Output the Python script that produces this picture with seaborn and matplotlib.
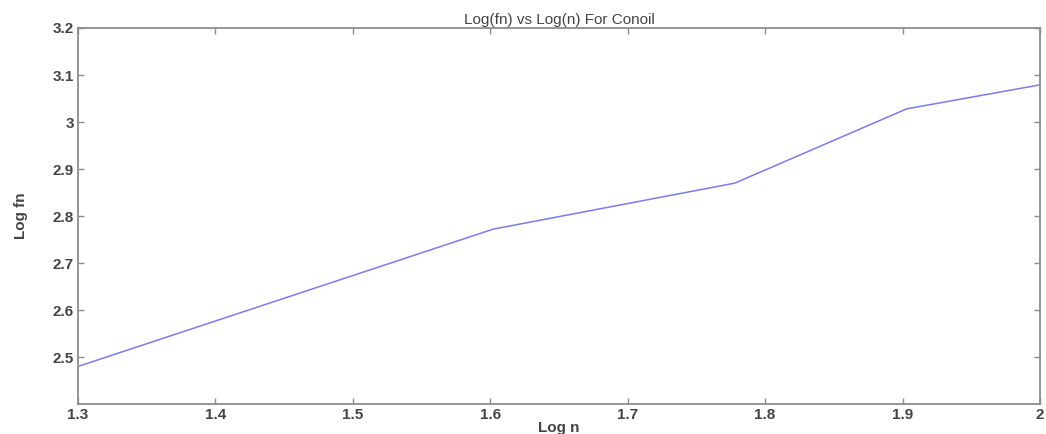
import pandas as pd
import matplotlib.pyplot as plt
import seaborn as sns

log_n = [1.301, 1.602, 1.778, 1.903, 2.0]
log_fn = [2.481, 2.772, 2.870, 3.028, 3.079]
x_ticks = [1.3, 1.4, 1.5, 1.6, 1.7, 1.8, 1.9, 2.0]
x_labels = ["1.3", "1.4", "1.5", "1.6", "1.7", "1.8", "1.9", "2"]
y_ticks = [2.5, 2.6, 2.7, 2.8, 2.9, 3.0, 3.1, 3.2]
y_labels = ["2.5", "2.6", "2.7", "2.8", "2.9", "3", "3.1", "3.2"]

df = pd.DataFrame({"log_n": log_n, "log_fn": log_fn})

sns.set_style("white")
plt.rcParams["font.family"] = ["Liberation Sans", "DejaVu Sans"]

fig = plt.figure(figsize=(10.46, 4.34), dpi=100)
ax = fig.add_axes([0.0746, 0.069, 0.9196, 0.8665])

sns.lineplot(data=df, x="log_n", y="log_fn", ax=ax, color="#7b7bf0", linewidth=1.1)

ax.set_xlim(1.3, 2.0)
ax.set_ylim(2.4, 3.2)
ax.set_xticks(x_ticks)
ax.set_xticklabels(x_labels)
ax.set_yticks(y_ticks)
ax.set_yticklabels(y_labels)

for side in ax.spines.values():
    side.set_color("#8c8c8c")
    side.set_linewidth(1.3)
ax.tick_params(direction="in", length=4, width=1, color="#8c8c8c",
               labelsize=11, labelcolor="#444444", top=True, right=True,
               bottom=True, left=True, pad=3)
for lab in ax.get_xticklabels() + ax.get_yticklabels():
    lab.set_fontweight("bold")

ax.set_title("Log(fn) vs Log(n) For Conoil", fontsize=11, color="#444444", pad=3)
ax.set_xlabel("Log n", fontsize=11, color="#444444", fontweight="bold", labelpad=-1)
ax.set_ylabel("Log fn", fontsize=11, color="#444444", fontweight="bold", labelpad=18)

fig.savefig("out.png", dpi=100)
